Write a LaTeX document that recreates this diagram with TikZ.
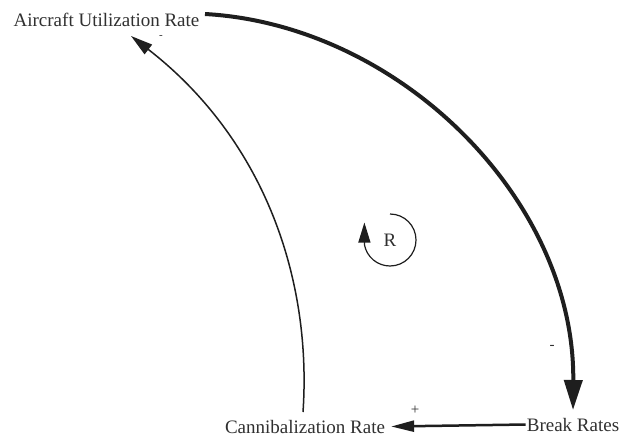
\documentclass[tikz,border=0pt]{standalone}
\usepackage{fontspec}
\setmainfont{Liberation Serif}
\usetikzlibrary{arrows.meta}
\definecolor{ink}{HTML}{1E1E1E}
\definecolor{txt}{HTML}{303030}
\begin{document}
\begin{tikzpicture}[x=1pt,y=-1pt,
  lbl/.style={font=\fontsize{19}{22}\selectfont, text=txt, inner sep=1pt, anchor=base},
  sgn/.style={font=\fontsize{15}{17}\selectfont, text=txt, inner sep=0pt},
  link/.style={draw=ink, line width=1.5pt, -{Triangle[length=22pt,width=12pt]}},
  thicklink/.style={draw=ink, line width=4pt, -{Triangle[length=30pt,width=18pt]}}
]
\useasboundingbox[fill=white] (0,0) rectangle (639,436);
\node[lbl] (au) at (106.5,27) {Aircraft Utilization Rate};
\node[lbl] (can) at (305,433) {Cannibalization Rate};
\node[lbl] (br) at (573,431) {Break Rates};
\node[lbl, anchor=center] (R) at (390,240) {R};
\coordinate (auend) at (205,14);
\coordinate (autip) at (131,36);
\coordinate (canstart) at (303,412);
\coordinate (brtip) at (573,410);
% thick link
\draw[thicklink] (auend) .. controls (400,25) and (575,200) .. (brtip);
% thin link
\draw[link] (canstart) .. controls (312,280) and (265,140) .. (autip);
% horizontal link
\draw[draw=ink, line width=2.5pt, -{Triangle[length=23pt,width=11pt]}] (br.west) -- ([xshift=5pt]can.east);
% loop
\draw[draw=ink, line width=1.2pt, -{Triangle[length=20pt,width=12pt]}]
  ([shift={(90:26pt)}]R.center) arc[start angle=90, end angle=-170, radius=26pt] -- ++(0,22pt);
% signs
\node[sgn, font=\fontsize{11}{12}\selectfont] (s1) at (161,37) {-};
\node[sgn] (s2) at (552,347) {-};
\node[sgn] (s3) at (415,410) {+};
\end{tikzpicture}
\end{document}
